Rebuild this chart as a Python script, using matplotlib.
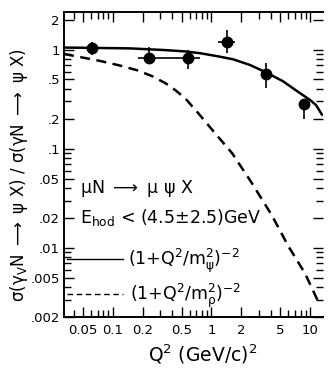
import matplotlib
matplotlib.use('Agg')
import matplotlib.pyplot as plt
from matplotlib.ticker import FixedLocator, FixedFormatter, LogLocator, NullFormatter

plt.rcParams['font.family'] = ['Liberation Sans Narrow', 'DejaVu Sans']
plt.rcParams['mathtext.fontset'] = 'custom'
plt.rcParams['mathtext.rm'] = 'Liberation Sans Narrow'
plt.rcParams['mathtext.it'] = 'Liberation Sans Narrow'
plt.rcParams['mathtext.sf'] = 'Liberation Sans Narrow'
plt.rcParams['mathtext.default'] = 'regular'

# ---- data ----
q2_pts = [0.062, 0.23, 0.58, 1.44, 3.6, 8.7]
ratio_pts = [1.03, 0.83, 0.82, 1.20, 0.57, 0.28]
ratio_lo = [0.88, 0.73, 0.64, 0.93, 0.41, 0.20]
ratio_hi = [1.20, 1.07, 1.00, 1.58, 0.73, 0.31]
q2_lo = [0.050, 0.18, 0.34, 1.17, 3.6, 8.7]
q2_hi = [0.078, 0.34, 0.77, 1.73, 3.6, 8.7]

q2_psi = [0.032, 0.074, 0.15, 0.34, 0.54, 0.77, 1.14, 1.65, 2.46, 3.57, 5.3, 7.7,
          10.0, 11.5, 13.2]
val_psi = [1.05, 1.04, 1.03, 0.99, 0.96, 0.92, 0.86, 0.80, 0.70, 0.59, 0.48, 0.37,
           0.31, 0.275, 0.22]

q2_rho = [0.032, 0.049, 0.074, 0.119, 0.176, 0.25, 0.34, 0.43, 0.54, 0.73, 1.09,
          1.62, 2.58, 4.11, 5.97, 8.88, 12.0]
val_rho = [0.905, 0.834, 0.77, 0.69, 0.62, 0.54, 0.46, 0.39, 0.324, 0.23, 0.143,
           0.090, 0.0446, 0.0211, 0.0105, 0.0055, 0.0029]

x_ticks = [0.05, 0.1, 0.2, 0.5, 1, 2, 5, 10]
x_ticklabels = ['0.05', '0.1', '0.2', '0.5', '1', '2', '5', '10']
y_ticks = [2, 1, 0.5, 0.2, 0.1, 0.05, 0.02, 0.01, 0.005, 0.002]
y_ticklabels = ['2', '1', '.5', '.2', '.1', '.05', '.02', '.01', '.005', '.002']

W, H = 330, 374
fig = plt.figure(figsize=(W / 100, H / 100), dpi=100)
L, R, T, B = 64, 323, 12, 317
ax = fig.add_axes([L / W, 1 - B / H, (R - L) / W, (B - T) / H])
ax.set_xscale('log')
ax.set_yscale('log')
ax.set_xlim(0.032, 13.5)
ax.set_ylim(0.002, 2.4)

ax.plot(q2_psi, val_psi, color='black', lw=1.8, solid_capstyle='round')
ax.plot(q2_rho, val_rho, color='black', lw=1.8, dashes=(4, 2.6))

yerr = [[v - lo for v, lo in zip(ratio_pts, ratio_lo)],
        [hi - v for v, hi in zip(ratio_pts, ratio_hi)]]
xerr = [[v - lo for v, lo in zip(q2_pts, q2_lo)],
        [hi - v for v, hi in zip(q2_pts, q2_hi)]]
ax.errorbar(q2_pts, ratio_pts, yerr=yerr, xerr=xerr, fmt='o', color='black',
            ms=7.5, elinewidth=1.2, capsize=0)

# axes styling
for s in ['left', 'bottom', 'top']:
    ax.spines[s].set_linewidth(1.4)
ax.spines['right'].set_visible(False)

ax.xaxis.set_major_locator(FixedLocator(x_ticks))
ax.xaxis.set_major_formatter(FixedFormatter(x_ticklabels))
ax.xaxis.set_minor_locator(LogLocator(base=10, subs=range(2, 10), numticks=20))
ax.xaxis.set_minor_formatter(NullFormatter())
ax.yaxis.set_major_locator(FixedLocator(y_ticks))
ax.yaxis.set_major_formatter(FixedFormatter(y_ticklabels))
ax.yaxis.set_minor_locator(LogLocator(base=10, subs=range(2, 10), numticks=20))
ax.yaxis.set_minor_formatter(NullFormatter())

ax.tick_params(which='both', direction='in', top=True, right=True, width=1.0)
ax.tick_params(which='major', length=7)
ax.tick_params(which='minor', length=5)
ax.tick_params(axis='x', which='major', labelsize=9.5, pad=5)
ax.tick_params(axis='y', which='major', labelsize=9.5, pad=3)

# annotations
fs = 12.5
ax.text(0.062, 0.407, r'$\mu$N $\longrightarrow$ $\mu$ $\psi$ X', transform=ax.transAxes,
        fontsize=fs, va='baseline', ha='left')
ax.text(0.062, 0.308, r'E$_{hod}$ < (4.5$\pm$2.5)GeV', transform=ax.transAxes,
        fontsize=fs, va='baseline', ha='left')
ax.plot([0.012, 0.228], [0.19, 0.19], transform=ax.transAxes, color='black', lw=1.0)
ax.text(0.247, 0.17, r'(1+Q$^2$/m$^2_\psi$)$^{-2}$', transform=ax.transAxes,
        fontsize=fs, va='baseline', ha='left')
ax.plot([0.012, 0.226], [0.075, 0.075], transform=ax.transAxes, color='black', lw=1.0,
        dashes=(4, 2.6))
ax.text(0.255, 0.056, r'(1+Q$^2$/m$^2_\rho$)$^{-2}$', transform=ax.transAxes,
        fontsize=fs, va='baseline', ha='left')

fig.text(203 / W, 1 - 354 / H, r'Q$^2$ (GeV/c)$^2$', fontsize=13.5, ha='center', va='center')
fig.text(19 / W, 1 - 175 / H,
         r'$\sigma(\gamma_V$N $\longrightarrow$ $\psi$ X) / $\sigma(\gamma$N $\longrightarrow$ $\psi$ X)',
         fontsize=12, rotation=90, ha='center', va='center')

fig.savefig('out.png', dpi=100)
